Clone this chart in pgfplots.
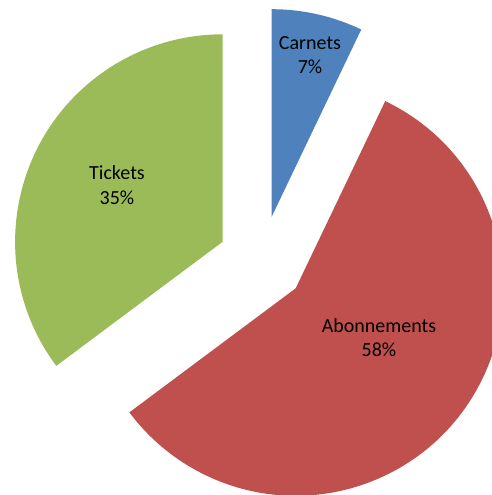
\documentclass[border=0pt]{standalone}
\usepackage{fontspec}
\setmainfont{Carlito}
\usepackage{pgfplots}
\pgfplotsset{compat=1.18}

\definecolor{carnets}{HTML}{4F81BD}
\definecolor{abonn}{HTML}{C0504D}
\definecolor{tickets}{HTML}{9BBB59}

% shares in percent
\def\vCarnets{7.1}
\def\vAbonn{57.7}
\def\vTickets{35.2}

\begin{document}
\begin{tikzpicture}
	\pgfmathsetmacro{\aA}{90}
	\pgfmathsetmacro{\aB}{\aA-3.6*\vCarnets}
	\pgfmathsetmacro{\aC}{\aB-3.6*\vAbonn}
	\pgfmathsetmacro{\aD}{\aC-3.6*\vTickets}
	\def\R{207.5pt}
	\begin{axis}[
			hide axis,
			scale only axis,
			width=492pt, height=495pt,
			xmin=0, xmax=492, ymin=0, ymax=495,
			clip=true,
			nodes={font=\fontsize{20}{24}\selectfont, inner sep=0pt},
		]
		\addplot[draw=none] coordinates {(0,0) (492,495)};
		% exploded slices, apex of each one
		\fill[carnets] (axis cs:271.7,278.3) -- ++(\aA:\R)
			arc[start angle=\aA, end angle=\aB, radius=\R] -- cycle;
		\fill[abonn] (axis cs:295.7,206.7) -- ++(\aB:\R)
			arc[start angle=\aB, end angle=\aC, radius=\R] -- cycle;
		\fill[tickets] (axis cs:222.6,253.2) -- ++(\aC:\R)
			arc[start angle=\aC, end angle=\aD, radius=\R] -- cycle;
		% labels
		\node[anchor=base] at (axis cs:310,445) {Carnets};
		\node[anchor=base] at (axis cs:310,421) {7\%};
		\node[anchor=base] at (axis cs:379,162) {Abonnements};
		\node[anchor=base] at (axis cs:379,138) {58\%};
		\node[anchor=base] at (axis cs:117,315) {Tickets};
		\node[anchor=base] at (axis cs:117,290) {35\%};
	\end{axis}
\end{tikzpicture}
\end{document}
